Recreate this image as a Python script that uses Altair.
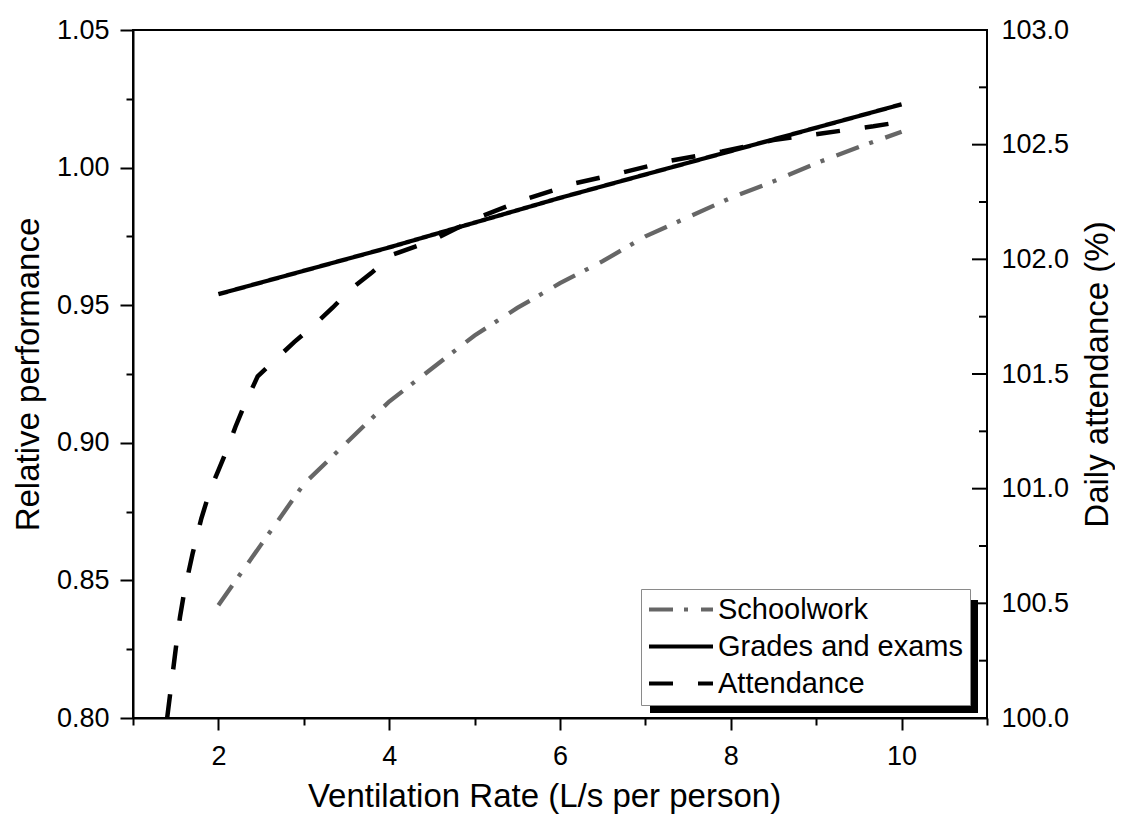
import altair as alt
import pandas as pd

# ---------------- data ----------------
series_names = ["Schoolwork", "Grades and exams", "Attendance"]

school_x = [2.0, 2.5, 3.0, 3.5, 4.0, 4.5, 5.0, 5.5, 6.0, 6.5, 7.0, 7.5, 8.0, 8.5, 9.0, 9.5, 10.0]
school_y = [0.841, 0.863, 0.885, 0.900, 0.915, 0.927, 0.939, 0.949, 0.958, 0.966, 0.975, 0.982,
            0.989, 0.995, 1.0016, 1.0075, 1.013]

grades_x = [2.0, 4.0, 6.0, 10.0]
grades_y = [0.954, 0.971, 0.989, 1.023]

attend_x = [1.40, 1.45, 1.50, 1.55, 1.60, 1.70, 1.80, 1.90, 2.00, 2.10, 2.20, 2.30, 2.46,
            2.66, 2.89, 3.11, 3.34, 3.55, 3.79, 4.04, 4.49, 5.03, 5.58, 6.16, 6.75, 7.29,
            7.90, 8.50, 9.08, 9.67, 10.0]
attend_y = [100.00, 100.15, 100.30, 100.44, 100.55, 100.72, 100.87, 100.99, 101.08, 101.17,
            101.27, 101.36, 101.49, 101.56, 101.64, 101.71, 101.79, 101.87, 101.94, 102.02,
            102.08, 102.18, 102.26, 102.33, 102.38, 102.43, 102.47, 102.52, 102.55, 102.58,
            102.60]

x_ticks = [1, 2, 3, 4, 5, 6, 7, 8, 9, 10, 11]
left_ticks = [0.80, 0.825, 0.85, 0.875, 0.90, 0.925, 0.95, 0.975, 1.00, 1.025, 1.05]
right_labels = [100.0, 100.5, 101.0, 101.5, 102.0, 102.5, 103.0]
right_minor = [100.25, 100.75, 101.25, 101.75, 102.25, 102.75]

# ---------------- layout / style ----------------
W, H = 854, 688
FONT = "Liberation Sans"
x_dom = [1, 11]
left_dom = [0.80, 1.05]
right_dom = [100.0, 103.0]

left_df = pd.DataFrame(
    {"x": school_x + grades_x,
     "y": school_y + grades_y,
     "series": ["Schoolwork"] * len(school_x) + ["Grades and exams"] * len(grades_x)}
)
att_df = pd.DataFrame({"x": attend_x, "y": attend_y, "series": ["Attendance"] * len(attend_x)})
rmaj_df = pd.DataFrame({"v": right_labels})
rmin_df = pd.DataFrame({"v": right_minor})

legend = alt.Legend(
    title=None, orient="none", legendX=508, legendY=559,
    fillColor="white", strokeColor="#8a8a8a", padding=6,
    symbolType="stroke", symbolSize=4096, symbolStrokeWidth=4,
    labelFont=FONT, labelFontSize=29, labelColor="black", labelOffset=3, labelLimit=500,
    rowPadding=7, clipHeight=29,
)
color = alt.Color("series:N",
                  scale=alt.Scale(domain=series_names, range=["#666666", "#000000", "#000000"]),
                  legend=legend)
dash = alt.StrokeDash("series:N",
                      scale=alt.Scale(domain=series_names, range=[[24, 11, 4, 13], [1, 0], [24, 25]]),
                      legend=legend)

x_enc = alt.X("x:Q", scale=alt.Scale(domain=x_dom, nice=False, zero=False),
              axis=alt.Axis(values=x_ticks, format="d",
                            labelExpr="datum.value % 2 == 0 ? datum.label : ''",
                            tickSize={"condition": {"test": "datum.value % 2 == 0", "value": 12}, "value": 7},
                            labelPadding=13, labelFontSize=27, labelFlush=False, labelOverlap=False,
                            title="Ventilation Rate (L/s per person)", titleFontSize=33,
                            titleX=411, titleY=88, titleBaseline="alphabetic", titleAlign="center"))

left_axis = alt.Axis(values=left_ticks,
                     labelExpr="round(datum.value*40) % 2 == 0 ? format(datum.value, '.2f') : ''",
                     tickSize={"condition": {"test": "round(datum.value*40) % 2 == 0", "value": 13}, "value": 7},
                     labelPadding=11, labelFontSize=27, labelOverlap=False,
                     title="Relative performance", titleFontSize=33, titleAngle=270,
                     titleX=-95, titleY=344, titleBaseline="alphabetic", titleAlign="center")

right_axis = alt.Axis(orient="right", values=right_labels, format=".1f", ticks=False, domain=False,
                      labelPadding=14, labelFontSize=27, labelOverlap=False,
                      title="Daily attendance (%)", titleFontSize=33, titleAngle=270,
                      titleX=120, titleY=344, titleBaseline="alphabetic", titleAlign="center")

left_lines = alt.Chart(left_df).mark_line(strokeWidth=4.3).encode(
    x=x_enc,
    y=alt.Y("y:Q", scale=alt.Scale(domain=left_dom, nice=False, zero=False), axis=left_axis),
    color=color, strokeDash=dash, detail="series:N",
)

right_scale = alt.Scale(domain=right_dom, nice=False, zero=False)
att_line = alt.Chart(att_df).mark_line(strokeWidth=4.5).encode(
    x=alt.X("x:Q", scale=alt.Scale(domain=x_dom, nice=False, zero=False)),
    y=alt.Y("y:Q", scale=right_scale, axis=right_axis),
    color=color, strokeDash=dash,
)
rmaj = alt.Chart(rmaj_df).mark_rule(color="black", strokeWidth=2).encode(
    y=alt.Y("v:Q", scale=right_scale, axis=right_axis),
    x=alt.value(W - 15), x2=alt.value(W),
)
rmin = alt.Chart(rmin_df).mark_rule(color="black", strokeWidth=2).encode(
    y=alt.Y("v:Q", scale=right_scale, axis=right_axis),
    x=alt.value(W - 8), x2=alt.value(W),
)
right_group = alt.layer(att_line, rmaj, rmin)

shadow = alt.Chart(pd.DataFrame({"k": [0]})).mark_rect(color="black").encode(
    x=alt.value(517), x2=alt.value(845), y=alt.value(570), y2=alt.value(683)
)

chart = alt.layer(shadow, left_lines, right_group).resolve_scale(y="independent").properties(
    width=W, height=H,
    background="white",
    autosize=alt.AutoSizeParams(type="none"),
    padding={"left": 125, "top": 22, "right": 128, "bottom": 98},
).configure_view(stroke="black", strokeWidth=2).configure_axis(
    labelFont=FONT, titleFont=FONT, labelColor="black", titleColor="black",
    domainColor="black", domainWidth=2, tickColor="black", tickWidth=2,
    grid=False, titleFontWeight="normal",
)

chart.save("out.html", embed_options={"renderer": "svg", "actions": False})
